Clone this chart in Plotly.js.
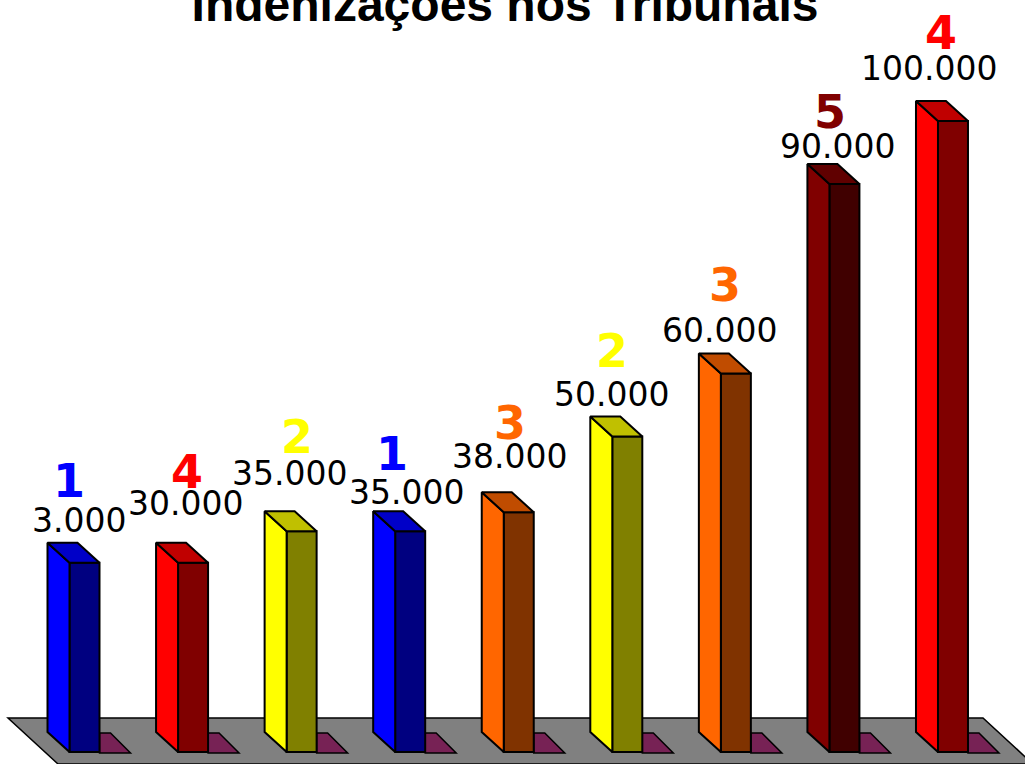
<!DOCTYPE html>
<html>
<head>
<meta charset="utf-8">
<script src="https://cdn.plot.ly/plotly-3.0.1.min.js"></script>
<style>html,body{margin:0;padding:0;background:#fff;}#chart{width:1025px;height:764px;}</style>
</head>
<body>
<div id="chart"></div>
<script>
// ---- data ----
const ranks = ['1', '4', '2', '1', '3', '2', '3', '5', '4'];
const values = [30000, 30000, 35000, 35000, 38000, 50000, 60000, 90000, 100000];
const valueLabels = ['3.000', '30.000', '35.000', '35.000', '38.000', '50.000', '60.000', '90.000', '100.000'];
const colorGroups = ['blue', 'red', 'yellow', 'blue', 'orange', 'yellow', 'orange', 'darkred', 'red'];

// ---- styles / layout helpers ----
const palette = {
  blue:    {side: '#0000FF', front: '#000080', top: '#0000C8', text: '#0000FF'},
  red:     {side: '#FF0000', front: '#800000', top: '#C00000', text: '#FF0000'},
  yellow:  {side: '#FFFF00', front: '#808000', top: '#C0C000', text: '#FFFF00'},
  orange:  {side: '#FF6600', front: '#803300', top: '#C04C00', text: '#FF6600'},
  darkred: {side: '#800000', front: '#400000', top: '#600000', text: '#800000'}
};
// label placement offsets in pixels (dx from bar centre, rise above bar top)
const labelDx = [-6, -7.6, -12.6, -3.7, -9.7, -15.8, -16.4, -7.4, -24];
const labelRise = [10.7, 27.7, 26, 7, 24, 10.5, 11.4, 6, 21];
const rankDx = [-15.5, -6, -4.6, -18.2, -8.7, -15.3, -10.9, -14.4, -12];
const rankRise = [45.7, 54.7, 58, 41, 53, 49.5, 52.4, 36, 52];

const W = 1025, H = 764;
const PXX = 108.56;      // px per category unit
const PXY = 0.00631;     // px per value unit
const X0 = 84.5, BASEPX = 752;
const HW = 15, DX = 22, DY = 20;
const X = (i, dpx) => i + dpx / PXX;
const Y = (v, dpy) => v + dpy / PXY;
const n = values.length;
const idx = values.map((_, i) => i);

const traces = [];
// front faces as real bars
traces.push({
  type: 'bar', x: idx, y: values, width: 2 * HW / PXX,
  marker: {color: colorGroups.map(g => palette[g].front), line: {color: '#000', width: 2}},
  hoverinfo: 'skip', showlegend: false
});
// side and top faces
values.forEach((v, i) => {
  const c = palette[colorGroups[i]];
  traces.push({
    type: 'scatter', mode: 'lines', fill: 'toself', fillcolor: c.side,
    x: [X(i, -HW), X(i, -HW), X(i, -HW - DX), X(i, -HW - DX), X(i, -HW)],
    y: [0, v, Y(v, DY), Y(0, DY), 0],
    line: {color: '#000', width: 2}, hoverinfo: 'skip', showlegend: false
  });
  traces.push({
    type: 'scatter', mode: 'lines', fill: 'toself', fillcolor: c.top,
    x: [X(i, -HW), X(i, HW), X(i, HW - DX), X(i, -HW - DX), X(i, -HW)],
    y: [v, v, Y(v, DY), Y(v, DY), v],
    line: {color: '#000', width: 2}, hoverinfo: 'skip', showlegend: false
  });
});

const shapes = [];
// floor
shapes.push({
  type: 'path', xref: 'x', yref: 'y', layer: 'below',
  path: `M ${X(0, -76.5)},${Y(0, 34)} L ${X(n - 1, 30)},${Y(0, 34)} L ${X(n - 1, 80)},${Y(0, -12)} L ${X(0, -26.5)},${Y(0, -12)} Z`,
  fillcolor: '#808080', line: {color: '#000', width: 1.5}
});
// shadows
idx.forEach(i => {
  shapes.push({
    type: 'path', xref: 'x', yref: 'y', layer: 'below',
    path: `M ${X(i, HW)},${Y(0, 19)} L ${X(i, HW + 11)},${Y(0, 19)} L ${X(i, HW + 31)},${Y(0, -1)} L ${X(i, HW)},${Y(0, -1)} Z`,
    fillcolor: '#772255', line: {color: '#000', width: 1.5}
  });
});

const LBL = 33, RNK = 46;
const annotations = [];
values.forEach((v, i) => {
  annotations.push({
    x: i, y: v, xref: 'x', yref: 'y', text: valueLabels[i], showarrow: false,
    xanchor: 'center', yanchor: 'middle',
    xshift: labelDx[i], yshift: DY + labelRise[i] + 0.35 * LBL,
    font: {family: 'DejaVu Sans', size: LBL, color: '#000'}
  });
  annotations.push({
    x: i, y: v, xref: 'x', yref: 'y', text: '<b>' + ranks[i] + '</b>', showarrow: false,
    xanchor: 'center', yanchor: 'middle',
    xshift: rankDx[i], yshift: DY + rankRise[i] + 0.35 * RNK,
    font: {family: 'DejaVu Sans', size: RNK, color: palette[colorGroups[i]].text}
  });
});

const layout = {
  width: W, height: H, autosize: false,
  margin: {l: 0, r: 0, t: 0, b: 0, pad: 0},
  paper_bgcolor: '#fff', plot_bgcolor: '#fff',
  showlegend: false,
  title: {
    text: '<b>Indenizações nos Tribunais</b>',
    font: {family: 'Liberation Sans, Arial, sans-serif', size: 48, color: '#000'},
    x: 505 / W, xanchor: 'center', xref: 'paper',
    y: 1 - 21 / H, yanchor: 'bottom', yref: 'container'
  },
  xaxis: {range: [-X0 / PXX, (W - X0) / PXX], visible: false, fixedrange: true},
  yaxis: {range: [-(H - BASEPX) / PXY, BASEPX / PXY], visible: false, fixedrange: true},
  shapes: shapes,
  annotations: annotations
};

Plotly.newPlot('chart', traces, layout, {displayModeBar: false, staticPlot: true});
</script>
</body>
</html>
